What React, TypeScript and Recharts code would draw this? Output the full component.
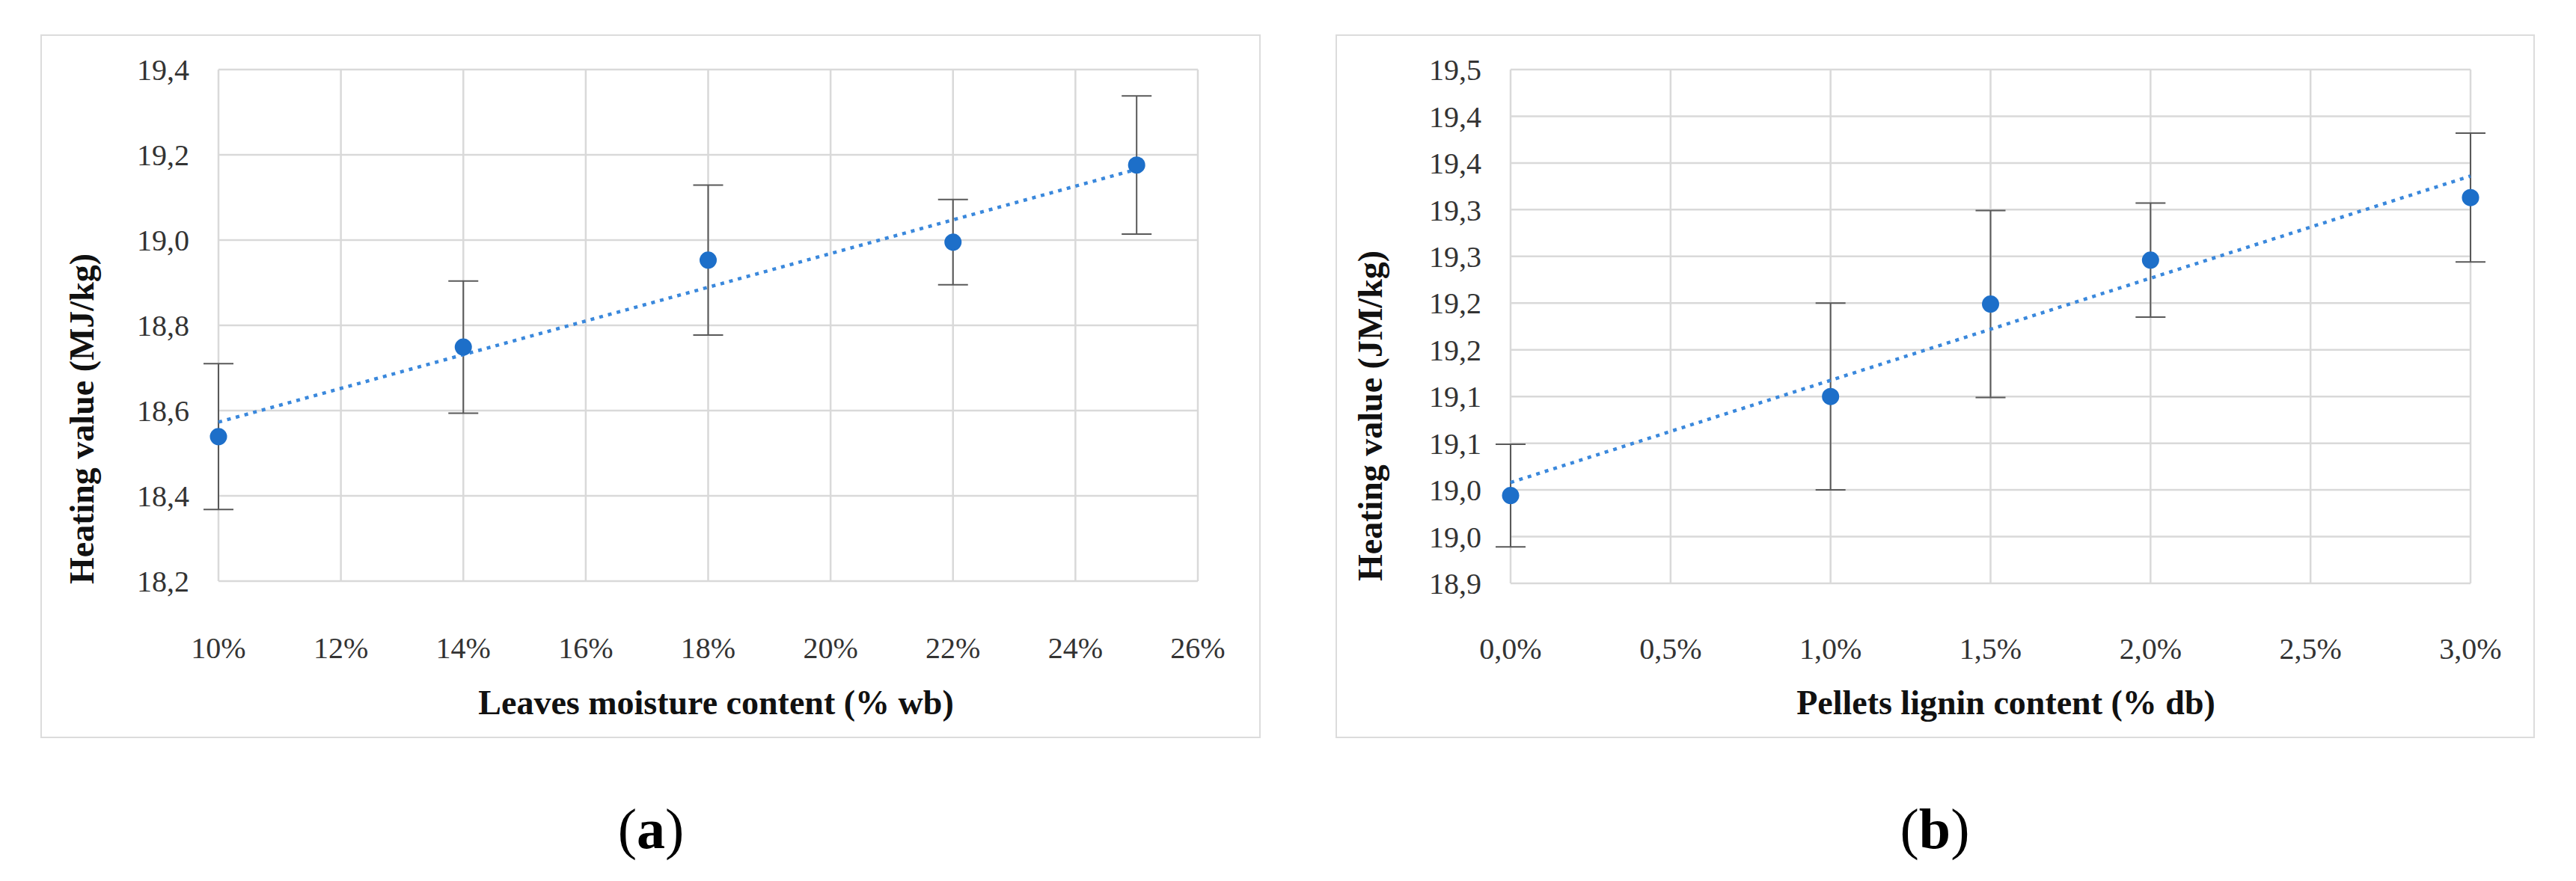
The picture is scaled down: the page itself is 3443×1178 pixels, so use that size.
import React from 'react';
import { ScatterChart, Scatter, XAxis, YAxis, CartesianGrid, ErrorBar } from 'recharts';

// ---------- Panel (a): leaves moisture content ----------
const moistureX = [10, 14, 18, 22, 25];
const heatingA = [18.539, 18.749, 18.953, 18.995, 19.176];
const errA = [0.171, 0.155, 0.176, 0.1, 0.162];
const trendAX = [10, 25];
const trendAY = [18.573, 19.166];
const xTicksA = [10, 12, 14, 16, 18, 20, 22, 24, 26];
const xLabelsA = ['10%', '12%', '14%', '16%', '18%', '20%', '22%', '24%', '26%'];
const yTicksA = [18.2, 18.4, 18.6, 18.8, 19.0, 19.2, 19.4];
const yLabelsA = ['18,2', '18,4', '18,6', '18,8', '19,0', '19,2', '19,4'];

// ---------- Panel (b): pellets lignin content ----------
const ligninX = [0, 1.0, 1.5, 2.0, 3.0];
const heatingB = [18.994, 19.1, 19.199, 19.246, 19.313];
const errB = [0.055, 0.1, 0.1, 0.061, 0.069];
const trendBX = [0, 3];
const trendBY = [19.008, 19.336];
const xTicksB = [0, 0.5, 1.0, 1.5, 2.0, 2.5, 3.0];
const xLabelsB = ['0,0%', '0,5%', '1,0%', '1,5%', '2,0%', '2,5%', '3,0%'];
const yTicksB = [18.9, 18.95, 19.0, 19.05, 19.1, 19.15, 19.2, 19.25, 19.3, 19.35, 19.4, 19.45];
const yLabelsB = ['18,9', '19,0', '19,0', '19,1', '19,1', '19,2', '19,2', '19,3', '19,3', '19,4', '19,4', '19,5'];

const titlesX = ['Leaves moisture content (% wb)', 'Pellets lignin content (% db)'];
const titlesY = ['Heating value (MJ/kg)', 'Heating value (JM/kg)'];
const captions = ['a', 'b'];

const BLUE = '#1d6fc9';
const TREND = '#3a88dc';
const GRID = '#d9d9d9';
const ERR = '#595959';
const SERIF = '"Liberation Serif", "Times New Roman", serif';

const labelFor = (ticks: number[], labels: string[]) => (v: number) => {
  const i = ticks.findIndex((t) => Math.abs(t - v) < 1e-9);
  return i >= 0 ? labels[i] : String(v);
};

type PanelProps = {
  left: number;
  top: number;
  width: number;
  height: number;
  margin: { top: number; right: number; bottom: number; left: number };
  xs: number[];
  ys: number[];
  errs: number[];
  trendX: number[];
  trendY: number[];
  xTicks: number[];
  xLabels: string[];
  yTicks: number[];
  yLabels: string[];
  xTickMargin: number;
};

const Panel = (p: PanelProps) => {
  const points = p.xs.map((x, i) => ({ x, y: p.ys[i], err: p.errs[i] }));
  const trend = p.trendX.map((x, i) => ({ x, y: p.trendY[i] }));
  const xDomain: [number, number] = [p.xTicks[0], p.xTicks[p.xTicks.length - 1]];
  const yDomain: [number, number] = [p.yTicks[0], p.yTicks[p.yTicks.length - 1]];
  const tickStyle = { fontFamily: SERIF, fontSize: 40, fill: '#333333' };
  return (
    <div style={{ position: 'absolute', left: p.left, top: p.top, width: p.width, height: p.height }}>
      <ScatterChart width={p.width} height={p.height} margin={p.margin}>
        <CartesianGrid xAxisId="main" yAxisId="v" stroke={GRID} strokeWidth={2.5} />
        <XAxis
          xAxisId="main"
          type="number"
          dataKey="x"
          domain={xDomain}
          ticks={p.xTicks}
          interval={0}
          tickFormatter={labelFor(p.xTicks, p.xLabels)}
          axisLine={false}
          tickLine={false}
          tickSize={0}
          tickMargin={p.xTickMargin}
          height={200}
          tick={tickStyle}
        />
        <XAxis xAxisId="clip" type="number" dataKey="x" domain={xDomain} allowDataOverflow hide />
        <YAxis
          yAxisId="v"
          type="number"
          dataKey="y"
          domain={yDomain}
          ticks={p.yTicks}
          interval={0}
          tickFormatter={labelFor(p.yTicks, p.yLabels)}
          axisLine={false}
          tickLine={false}
          tickSize={0}
          tickMargin={39}
          width={200}
          tick={tickStyle}
        />
        <Scatter data={points} xAxisId="clip" yAxisId="v" isAnimationActive={false} shape={() => <g />}>
          <ErrorBar dataKey="err" direction="y" width={20} stroke={ERR} strokeWidth={2} isAnimationActive={false} />
        </Scatter>
        <Scatter
          data={trend}
          xAxisId="main"
          yAxisId="v"
          isAnimationActive={false}
          fill={TREND}
          line={{ stroke: TREND, strokeWidth: 4.5, strokeDasharray: '5 7', fill: 'none' }}
          lineType="joint"
          shape={() => <g />}
        />
        <Scatter
          data={points}
          xAxisId="main"
          yAxisId="v"
          isAnimationActive={false}
          fill={BLUE}
          shape={(sp: any) => <circle cx={sp.cx} cy={sp.cy} r={11.5} fill={BLUE} />}
        />
      </ScatterChart>
      <div
        style={{
          position: 'absolute',
          left: 0,
          top: 0,
          width: p.width,
          height: p.height,
          boxSizing: 'border-box',
          border: '2px solid #dcdcdc',
          pointerEvents: 'none',
        }}
      />
    </div>
  );
};

const YTitle = ({ x, y, text }: { x: number; y: number; text: string }) => (
  <text
    x={x}
    y={y}
    transform={`rotate(-90 ${x} ${y})`}
    textAnchor="middle"
    fontFamily={SERIF}
    fontWeight="bold"
    fontSize={46}
    fill="#111111"
  >
    {text}
  </text>
);

const XTitle = ({ x, y, text }: { x: number; y: number; text: string }) => (
  <text x={x} y={y} textAnchor="middle" fontFamily={SERIF} fontWeight="bold" fontSize={46} fill="#111111">
    {text}
  </text>
);

export default function App() {
  return (
    <div style={{ position: 'absolute', left: 0, top: 0, width: 3443, height: 1178, background: '#ffffff', overflow: 'hidden' }}>
      <Panel
        left={54}
        top={46}
        width={1631}
        height={941}
        margin={{ top: 47, right: 84, bottom: 10, left: 38 }}
        xs={moistureX}
        ys={heatingA}
        errs={errA}
        trendX={trendAX}
        trendY={trendAY}
        xTicks={xTicksA}
        xLabels={xLabelsA}
        yTicks={yTicksA}
        yLabels={yLabelsA}
        xTickMargin={45}
      />
      <Panel
        left={1785}
        top={46}
        width={1603}
        height={941}
        margin={{ top: 47, right: 86, bottom: 7, left: 34 }}
        xs={ligninX}
        ys={heatingB}
        errs={errB}
        trendX={trendBX}
        trendY={trendBY}
        xTicks={xTicksB}
        xLabels={xLabelsB}
        yTicks={yTicksB}
        yLabels={yLabelsB}
        xTickMargin={43}
      />
      <svg width={3443} height={1178} style={{ position: 'absolute', left: 0, top: 0, pointerEvents: 'none' }}>
        <YTitle x={125} y={560} text={titlesY[0]} />
        <YTitle x={1847} y={556} text={titlesY[1]} />
        <XTitle x={957} y={955} text={titlesX[0]} />
        <XTitle x={2681} y={955} text={titlesX[1]} />
        <text x={870} y={1134} textAnchor="middle" fontFamily={SERIF} fontSize={76} fill="#000000">
          (<tspan fontWeight="bold">{captions[0]}</tspan>)
        </text>
        <text x={2586} y={1134} textAnchor="middle" fontFamily={SERIF} fontSize={76} fill="#000000">
          (<tspan fontWeight="bold">{captions[1]}</tspan>)
        </text>
      </svg>
    </div>
  );
}
